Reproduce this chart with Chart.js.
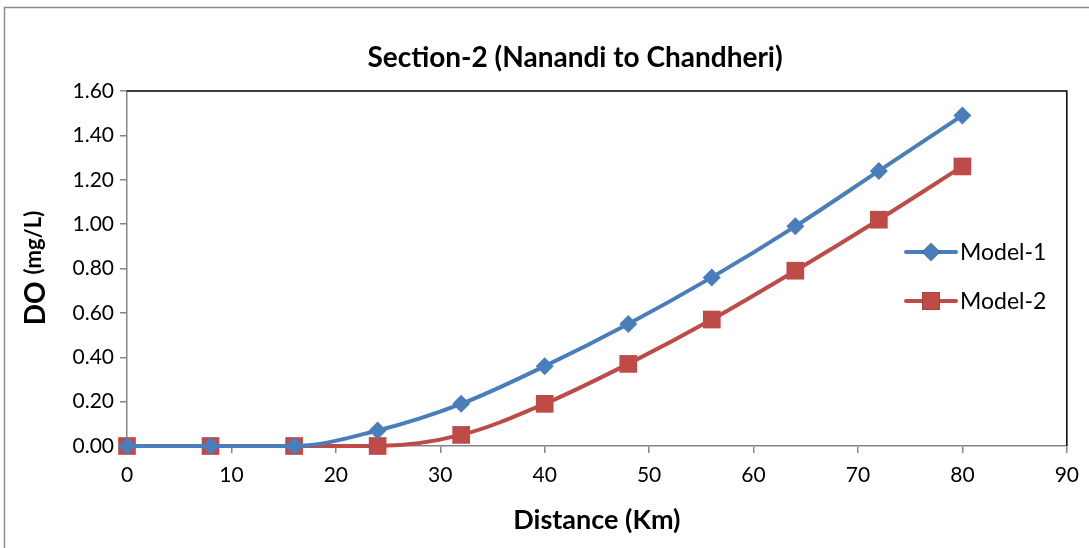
<!DOCTYPE html>
<html>
<head>
<meta charset="utf-8">
<script src="https://cdn.jsdelivr.net/npm/chart.js@4.4.1/dist/chart.umd.min.js"></script>
<style>
  html, body { margin: 0; padding: 0; background: #fff; }
  #wrap { width: 1089px; height: 548px; position: relative; }
</style>
</head>
<body>
<div id="wrap"><canvas id="grafico"></canvas></div>
<script>
const distancias = [0, 8, 16, 24, 32, 40, 48, 56, 64, 72, 80];
const modelo1 = [0, 0, 0, 0.07, 0.19, 0.36, 0.55, 0.76, 0.99, 1.24, 1.49];
const modelo2 = [0, 0, 0, 0, 0.05, 0.19, 0.37, 0.57, 0.79, 1.02, 1.26];
const nomesSeries = ['Model-1', 'Model-2'];
const tituloGrafico = 'Section-2 (Nanandi to Chandheri)';
const tituloX = 'Distance (Km)';
const fonte = 'Lato, "Open Sans", sans-serif';

const azul = '#4A7EBB';
const vermelho = '#BE4B48';

function pares(ys) {
    return distancias.map(function (d, i) { return { x: d, y: ys[i] }; });
}

// desenha titulo, legenda, bordas e titulo do eixo Y
const extras = {
    id: 'extras',
    afterDraw: function (chart) {
        const ctx = chart.ctx;
        const area = chart.chartArea;
        ctx.save();

        // borda externa
        ctx.strokeStyle = '#8c8c8c';
        ctx.lineWidth = 1.5;
        ctx.beginPath();
        ctx.moveTo(4.5, 548);
        ctx.lineTo(4.5, 7.5);
        ctx.lineTo(1089, 7.5);
        ctx.stroke();

        // borda superior e direita da area de plotagem
        ctx.strokeStyle = '#000';
        ctx.lineWidth = 1.5;
        ctx.beginPath();
        ctx.moveTo(area.left, area.top);
        ctx.lineTo(area.right, area.top);
        ctx.lineTo(area.right, area.bottom);
        ctx.stroke();

        // titulo
        ctx.fillStyle = '#000';
        ctx.font = 'bold 28px ' + fonte;
        ctx.textAlign = 'center';
        ctx.textBaseline = 'middle';
        ctx.fillText(tituloGrafico, 575, 58);

        // titulo do eixo Y: "DO" grande + "(mg/L)" menor
        ctx.translate(36, 268);
        ctx.rotate(-Math.PI / 2);
        ctx.font = 'bold 28px ' + fonte;
        const w1 = ctx.measureText('DO ').width;
        ctx.font = 'bold 22px ' + fonte;
        const w2 = ctx.measureText('(mg/L)').width;
        let x0 = -(w1 + w2) / 2;
        ctx.textAlign = 'left';
        ctx.font = 'bold 28px ' + fonte;
        ctx.fillText('DO ', x0, 0);
        ctx.font = 'bold 22px ' + fonte;
        ctx.fillText('(mg/L)', x0 + w1, -2);
        ctx.setTransform(1, 0, 0, 1, 0, 0);

        // legenda
        const linhasY = [252, 301];
        chart.data.datasets.forEach(function (ds, i) {
            const y = linhasY[i];
            ctx.strokeStyle = ds.borderColor;
            ctx.lineWidth = 4;
            ctx.lineCap = 'round';
            ctx.beginPath();
            ctx.moveTo(906, y);
            ctx.lineTo(956, y);
            ctx.stroke();
            Chart.helpers.drawPoint(ctx, {
                pointStyle: ds.pointStyle,
                radius: ds.pointRadius,
                borderWidth: 0
            }, 931, y);
            ctx.fillStyle = ds.pointBackgroundColor;
            ctx.fill();
            ctx.fillStyle = '#000';
            ctx.font = '23px ' + fonte;
            ctx.textAlign = 'left';
            ctx.textBaseline = 'middle';
            ctx.fillText(ds.label, 960, y + 1);
        });
        ctx.restore();
    }
};

new Chart(document.getElementById('grafico').getContext('2d'), {
    type: 'line',
    data: {
        datasets: [{
            label: nomesSeries[0],
            data: pares(modelo1),
            borderColor: azul,
            backgroundColor: azul,
            pointBackgroundColor: azul,
            pointBorderColor: azul,
            borderWidth: 4,
            pointStyle: 'rectRot',
            pointRadius: 9,
            pointBorderWidth: 0,
            cubicInterpolationMode: 'monotone',
            clip: false
        }, {
            label: nomesSeries[1],
            data: pares(modelo2),
            borderColor: vermelho,
            backgroundColor: vermelho,
            pointBackgroundColor: vermelho,
            pointBorderColor: vermelho,
            borderWidth: 4,
            pointStyle: 'rect',
            pointRadius: 12.5,
            pointBorderWidth: 0,
            cubicInterpolationMode: 'monotone',
            clip: false
        }]
    },
    options: {
        responsive: true,
        maintainAspectRatio: false,
        animation: false,
        layout: { padding: { top: 91, right: 19, left: 0, bottom: 0 } },
        plugins: {
            legend: { display: false },
            title: { display: false },
            tooltip: { enabled: false }
        },
        scales: {
            x: {
                type: 'linear',
                min: 0,
                max: 90,
                ticks: { stepSize: 10, color: '#000', font: { family: fonte, size: 21 }, padding: 10 },
                grid: { drawOnChartArea: false, color: '#868686', tickLength: 7, lineWidth: 1.5 },
                border: { color: '#868686', width: 1.5 },
                title: { display: true, text: tituloX, color: '#000', font: { family: fonte, size: 27, weight: 'bold' }, padding: { top: 6, bottom: 12 } },
                afterFit: function (scale) { scale.height = 102; }
            },
            y: {
                min: 0,
                max: 1.6,
                ticks: {
                    stepSize: 0.2,
                    color: '#000',
                    font: { family: fonte, size: 21 },
                    padding: 6,
                    callback: function (v) { return v.toFixed(2); }
                },
                grid: { drawOnChartArea: false, color: '#868686', tickLength: 7, lineWidth: 1.5 },
                border: { color: '#868686', width: 1.5 },
                afterFit: function (scale) { scale.width = 127; }
            }
        }
    },
    plugins: [extras]
});
</script>
</body>
</html>
